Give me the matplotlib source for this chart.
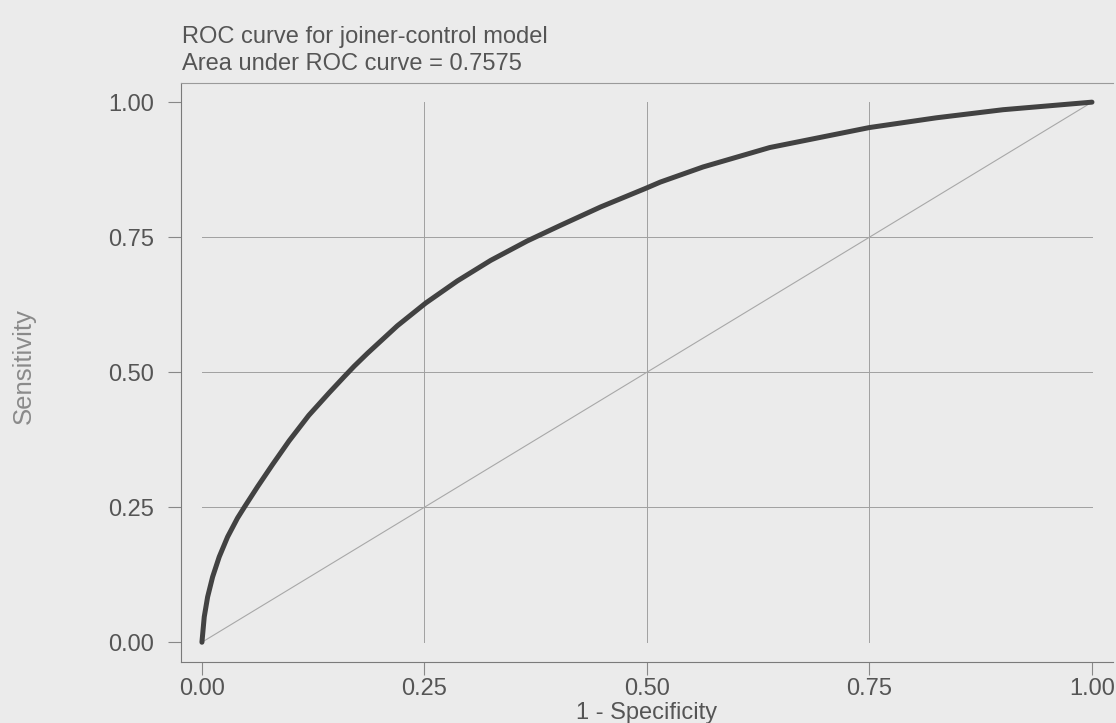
import numpy as np
import matplotlib.pyplot as plt

# ROC curve points
fpr = [0.0, 0.0026, 0.0064, 0.012, 0.0194, 0.0288, 0.040, 0.048, 0.0625, 0.0793,
       0.098, 0.120, 0.143, 0.160, 0.171, 0.186, 0.2196, 0.2514, 0.287, 0.3244,
       0.3655, 0.403, 0.448, 0.498, 0.515, 0.563, 0.638, 0.750, 0.825, 0.900, 1.0]
tpr = [0.0, 0.047, 0.084, 0.121, 0.158, 0.195, 0.230, 0.251, 0.288, 0.329,
       0.373, 0.420, 0.462, 0.492, 0.511, 0.535, 0.586, 0.628, 0.669, 0.707,
       0.743, 0.772, 0.806, 0.840, 0.852, 0.880, 0.916, 0.953, 0.971, 0.986, 1.0]
ref_x = [0.0, 1.0]
ref_y = [0.0, 1.0]
ticks = [0.0, 0.25, 0.5, 0.75, 1.0]
tick_labels = ["0.00", "0.25", "0.50", "0.75", "1.00"]
title_lines = ["ROC curve for joiner-control model", "Area under ROC curve = 0.7575"]

bg = "#ebebeb"
txt = "#555555"

plt.rcParams["font.family"] = ["Liberation Sans", "DejaVu Sans"]

fig = plt.figure(figsize=(11.16, 7.23), dpi=100, facecolor=bg)
ax = fig.add_axes([0.1622, 0.0848, 0.8351, 0.8008], facecolor=bg)

# grid only at interior ticks, spanning the data range
for t in ticks[1:-1]:
    ax.plot([t, t], [0, 1], color="#a0a0a0", lw=0.7, zorder=1)
    ax.plot([0, 1], [t, t], color="#a0a0a0", lw=0.7, zorder=1)

ax.plot(ref_x, ref_y, color="#a8a8a8", lw=0.8, zorder=2)
ax.plot(fpr, tpr, color="#424242", lw=3.6, solid_capstyle="round",
        solid_joinstyle="round", zorder=3)

ax.set_xlim(-0.0235, 1.0236)
ax.set_ylim(-0.036, 1.036)
ax.set_xticks(ticks)
ax.set_xticklabels(tick_labels)
ax.set_yticks(ticks)
ax.set_yticklabels(tick_labels)
ax.tick_params(axis="x", direction="out", length=9, width=0.8, color="#888888",
               labelsize=17, labelcolor=txt, pad=3)
ax.tick_params(axis="y", direction="out", length=9.5, width=0.8, color="#888888",
               labelsize=17, labelcolor=txt, pad=10)

for s in ["left", "bottom"]:
    ax.spines[s].set_color("#7a7a7a")
    ax.spines[s].set_linewidth(0.8)
ax.spines["top"].set_color("#9a9a9a")
ax.spines["top"].set_linewidth(0.8)
ax.spines["right"].set_visible(False)

ax.set_xlabel("1 - Specificity", fontsize=17, color=txt, labelpad=1)
fig.text(0.021, 0.494, "Sensitivity", rotation=90, fontsize=18.5, color="#8a8a8a",
         ha="center", va="center")

fig.text(0.163, 0.940, title_lines[0], fontsize=17, color=txt, ha="left", va="baseline")
fig.text(0.163, 0.903, title_lines[1], fontsize=17, color=txt, ha="left", va="baseline")

fig.savefig("out.png", dpi=100, facecolor=bg)
